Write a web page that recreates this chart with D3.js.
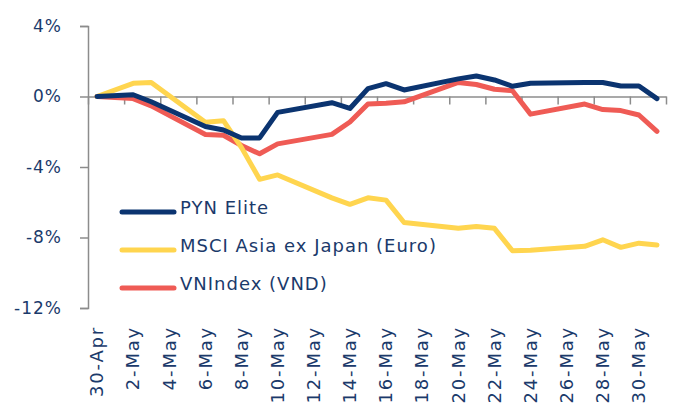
<!DOCTYPE html>
<html>
<head>
<meta charset="utf-8">
<script src="https://cdn.jsdelivr.net/npm/d3@7"></script>
<style>
  body { margin: 0; background: #fff; }
  text { font-family: "DejaVu Sans", sans-serif; fill: #1b3a6b; }
</style>
</head>
<body>
<div id="chart"></div>
<script>

// every calendar day on the axis
const days = ["30-Apr", "1-May", "2-May", "3-May", "4-May", "5-May", "6-May", "7-May",
  "8-May", "9-May", "10-May", "11-May", "12-May", "13-May", "14-May", "15-May",
  "16-May", "17-May", "18-May", "19-May", "20-May", "21-May", "22-May", "23-May",
  "24-May", "25-May", "26-May", "27-May", "28-May", "29-May", "30-May", "31-May"]

// days that have a value
const tradeDays = ["30-Apr", "2-May", "3-May", "6-May", "7-May", "8-May", "9-May", "10-May",
  "13-May", "14-May", "15-May", "16-May", "17-May", "20-May", "21-May", "22-May",
  "23-May", "24-May", "27-May", "28-May", "29-May", "30-May", "31-May"]

const pyn = [0, 0.1, -0.3, -1.7, -1.9, -2.35, -2.35, -0.9,
  -0.35, -0.68, 0.45, 0.73, 0.37, 1.0, 1.16, 0.94,
  0.58, 0.75, 0.79, 0.79, 0.6, 0.6, -0.12]

const msci = [0, 0.75, 0.79, -1.46, -1.37, -2.9, -4.7, -4.45,
  -5.75, -6.12, -5.75, -5.88, -7.15, -7.48, -7.38, -7.48,
  -8.75, -8.72, -8.5, -8.13, -8.56, -8.32, -8.42]

const vni = [0, -0.12, -0.53, -2.16, -2.2, -2.78, -3.25, -2.69,
  -2.15, -1.45, -0.42, -0.38, -0.3, 0.8, 0.68, 0.41,
  0.33, -1.0, -0.43, -0.74, -0.8, -1.05, -1.98]

const seriesNames = ["PYN Elite", "MSCI Asia ex Japan (Euro)", "VNIndex (VND)"]
const seriesColors = ["#0b3470", "#ffd54f", "#ef5b55"]

const yTicks = [-12, -8, -4, 0, 4]

const width = 676
const height = 403
const plotLeft = 88, plotRight = 666, plotTop = 26, plotBottom = 308

const svg = d3.select("#chart").append("svg")
    .attr("width", width)
    .attr("height", height)

const x = d3.scaleBand()
    .domain(days)
    .range([plotLeft, plotRight])

// boundaries between days, for the tick marks
const xEdge = d3.scaleLinear()
    .domain([0, days.length])
    .range([plotLeft, plotRight])

const y = d3.scaleLinear()
    .domain([-12, 4])
    .range([plotBottom, plotTop])

// y axis
const yAxis = svg.append("g")
    .attr("transform", "translate(" + plotLeft + ",0)")
    .call(d3.axisLeft(y)
        .tickValues(yTicks)
        .tickSize(8)
        .tickPadding(18)
        .tickFormat(d => d + "%"))
yAxis.select(".domain").attr("stroke", "#8c8c8c").attr("stroke-width", 1.5)
yAxis.selectAll(".tick line").attr("stroke", "#8c8c8c").attr("stroke-width", 1.5)
yAxis.selectAll("text")
    .style("font-size", "17px")
    .style("letter-spacing", "1px")
    .attr("fill", "#1b3a6b")

// x axis line at 0% with tick marks every 2 days
const xAxis = svg.append("g")
    .attr("transform", "translate(0," + y(0) + ")")
    .call(d3.axisBottom(xEdge)
        .tickValues(d3.range(0, days.length + 1, 2))
        .tickSize(8)
        .tickSizeOuter(0)
        .tickFormat(""))
xAxis.select(".domain").attr("stroke", "#8c8c8c").attr("stroke-width", 1.5)
xAxis.selectAll(".tick line").attr("stroke", "#8c8c8c").attr("stroke-width", 1.5)

// x labels at the bottom
const xLabels = svg.append("g")
    .attr("transform", "translate(0,326)")
    .call(d3.axisBottom(x)
        .tickValues(days.filter((d, i) => i % 2 == 0))
        .tickSize(0))
xLabels.select(".domain").remove()
xLabels.selectAll("text")
    .attr("transform", "rotate(-90)")
    .attr("x", 0)
    .attr("y", 0)
    .attr("dy", "0.35em")
    .attr("text-anchor", "end")
    .attr("fill", "#1b3a6b")
    .style("font-size", "18px")
    .style("letter-spacing", "1.8px")

const line = d3.line()
    .x(d => x(d[0]) + x.bandwidth() / 2)
    .y(d => y(d[1]))

const allSeries = [pyn, msci, vni]

// draw red first, then yellow, then navy on top
const order = [2, 1, 0]
order.forEach(k => {
    svg.append("path")
        .datum(tradeDays.map((d, i) => [d, allSeries[k][i]]))
        .attr("fill", "none")
        .attr("stroke", seriesColors[k])
        .attr("stroke-width", 5)
        .attr("stroke-linejoin", "round")
        .attr("stroke-linecap", "round")
        .attr("d", line)
})

// legend
const legendY = [212, 250, 288]
seriesNames.forEach((name, i) => {
    svg.append("line")
        .attr("x1", 122).attr("x2", 174)
        .attr("y1", legendY[i]).attr("y2", legendY[i])
        .attr("stroke", seriesColors[i])
        .attr("stroke-width", 5)
        .attr("stroke-linecap", "round")
    svg.append("text")
        .attr("x", 180)
        .attr("y", legendY[i] + 2)
        .style("font-size", "18px")
        .style("letter-spacing", "1px")
        .text(name)
})

</script>
</body>
</html>
